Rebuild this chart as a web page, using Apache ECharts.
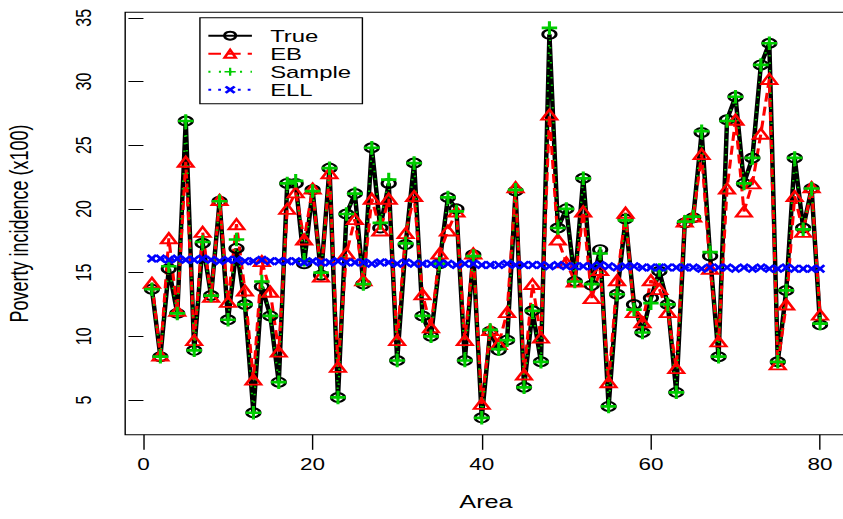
<!DOCTYPE html>
<html>
<head>
<meta charset="utf-8">
<script src="https://cdn.jsdelivr.net/npm/echarts@6/dist/echarts.min.js"></script>
<style>
  html, body { margin: 0; padding: 0; background: #fff; overflow: hidden; }
  #wrap { width: 843px; height: 519px; overflow: hidden; }
  /* the plot is laid out on a 600px canvas and widened to the 843px page */
  #chart { width: 600px; height: 519px; transform: scaleX(1.405); transform-origin: 0 0; }
</style>
</head>
<body>
<div id="wrap"><div id="chart"></div></div>
<script>
// Area index
const areas = [
  1, 2, 3, 4, 5, 6, 7, 8, 9, 10, 11, 12, 13, 14, 15, 16, 17, 18, 19, 20,
  21, 22, 23, 24, 25, 26, 27, 28, 29, 30, 31, 32, 33, 34, 35, 36, 37, 38, 39, 40,
  41, 42, 43, 44, 45, 46, 47, 48, 49, 50, 51, 52, 53, 54, 55, 56, 57, 58, 59, 60,
  61, 62, 63, 64, 65, 66, 67, 68, 69, 70, 71, 72, 73, 74, 75, 76, 77, 78, 79, 80
];

// Poverty incidence (x100) by area
const trueVals = [
  13.7, 8.4, 15.3, 11.8, 26.9, 8.9, 17.3, 13.2, 20.6, 11.3,
  16.9, 12.5, 4.0, 13.9, 11.6, 6.4, 22.0, 22.0, 15.7, 21.5,
  14.8, 23.2, 5.2, 19.6, 21.2, 14.1, 24.8, 18.5, 22.0, 8.1,
  17.2, 23.6, 11.6, 10.0, 15.7, 20.9, 20.0, 8.1, 16.4, 3.6,
  10.4, 8.9, 9.7, 21.4, 6.0, 12.0, 8.0, 33.7, 18.5, 20.0,
  14.3, 22.4, 14.0, 16.8, 4.5, 13.3, 19.2, 12.5, 10.3, 13.0,
  15.1, 12.5, 5.6, 18.9, 19.3, 26.0, 16.3, 8.4, 27.0, 28.8,
  22.0, 24.0, 31.3, 33.0, 8.0, 13.6, 24.0, 18.5, 21.6, 10.9
];

const ebVals = [
  14.2, 8.5, 17.7, 12.0, 23.7, 9.7, 18.2, 13.1, 20.7, 12.7,
  18.8, 13.6, 6.6, 15.9, 13.5, 8.8, 20.0, 21.3, 17.6, 21.6,
  14.7, 22.8, 7.6, 16.5, 19.2, 14.4, 20.8, 18.3, 20.8, 9.7,
  18.1, 21.0, 13.3, 10.7, 16.5, 18.3, 19.8, 9.7, 16.5, 4.7,
  10.5, 9.4, 11.9, 21.7, 7.0, 14.1, 9.9, 27.4, 17.6, 15.8,
  14.3, 19.8, 13.0, 15.2, 6.4, 14.4, 19.7, 11.9, 11.1, 14.4,
  13.7, 11.9, 7.5, 19.0, 19.4, 24.3, 15.3, 9.6, 21.6, 27.0,
  19.8, 22.0, 25.9, 30.2, 7.8, 12.5, 21.0, 18.2, 21.7, 11.7
];

const sampleVals = [
  13.7, 8.4, 15.5, 11.8, 26.9, 8.9, 17.4, 13.2, 20.6, 11.3,
  17.6, 12.5, 4.0, 14.3, 11.6, 6.4, 22.0, 22.2, 16.0, 21.4,
  15.0, 23.2, 5.2, 19.6, 21.2, 14.1, 24.8, 18.9, 22.3, 8.1,
  17.3, 23.6, 11.6, 10.0, 15.7, 20.9, 19.8, 8.1, 16.3, 3.6,
  10.5, 9.0, 9.7, 21.5, 6.0, 12.0, 8.0, 34.2, 18.5, 20.0,
  14.3, 22.4, 14.1, 16.5, 4.5, 13.3, 19.1, 12.1, 10.3, 12.6,
  15.2, 12.5, 5.6, 19.0, 19.4, 26.1, 16.6, 8.4, 26.9, 28.8,
  22.0, 24.0, 31.3, 33.0, 8.0, 13.6, 24.0, 18.4, 21.6, 11.0
];

const ellVals = [
  16.1, 16.1, 16.0, 16.1, 16.0, 16.0, 16.1, 16.0, 15.9, 16.0,
  16.0, 15.9, 15.9, 16.0, 15.9, 15.9, 15.9, 15.9, 15.8, 15.9,
  15.8, 15.8, 15.9, 15.8, 15.8, 15.8, 15.7, 15.8, 15.8, 15.7,
  15.8, 15.7, 15.7, 15.7, 15.7, 15.7, 15.6, 15.7, 15.7, 15.6,
  15.6, 15.6, 15.7, 15.6, 15.6, 15.6, 15.6, 15.5, 15.6, 15.5,
  15.5, 15.5, 15.5, 15.6, 15.5, 15.4, 15.5, 15.5, 15.4, 15.4,
  15.4, 15.4, 15.4, 15.4, 15.4, 15.3, 15.4, 15.4, 15.4, 15.3,
  15.4, 15.3, 15.4, 15.3, 15.3, 15.4, 15.3, 15.3, 15.3, 15.3
];

const xTicks = [0, 20, 40, 60, 80];
const yTicks = [5, 10, 15, 20, 25, 30, 35];

const FONT = 'Liberation Sans, Arial, Helvetica, sans-serif';
const GREEN = '#00CD00';

// plus (pch 3) and cross (pch 4) marker outlines
const plusPath = 'path://M4,0H6V4H10V6H6V10H4V6H0V4H4Z';
const crossPath = 'path://M0,2L2,0L5,3L8,0L10,2L7,5L10,8L8,10L5,7L2,10L0,8L3,5Z';

const pairs = vals => areas.map((a, i) => [a, vals[i]]);

const chart = echarts.init(document.getElementById('chart'), null, { renderer: 'svg' });

chart.setOption({
  animation: false,
  backgroundColor: '#fff',
  textStyle: { fontFamily: FONT, color: '#000' },
  grid: {
    left: 89.1, top: 12.3, width: 513.6, height: 422.5,
    show: true, borderColor: '#000', borderWidth: 1,
    backgroundColor: 'transparent',
    containLabel: false, outerBoundsMode: 'none'
  },
  legend: {
    orient: 'vertical',
    left: 142.3, top: 17.7,
    padding: [9, 8, 5, 5],
    backgroundColor: '#fff',
    borderColor: '#000', borderWidth: 1, borderRadius: 0,
    itemWidth: 31, itemHeight: 10, itemGap: 0,
    textStyle: { fontFamily: FONT, fontSize: 17, color: '#000', lineHeight: 18, padding: [0, 0, 0, 8] },
    data: ['True', 'EB', 'Sample', 'ELL']
  },
  xAxis: {
    type: 'value',
    min: -2.16, max: 83.16,
    name: 'Area', nameLocation: 'middle', nameGap: 58,
    nameTextStyle: { fontFamily: FONT, fontSize: 18, color: '#000' },
    axisLine: { show: false },
    axisTick: { show: true, customValues: xTicks, length: 15, lineStyle: { color: '#000', width: 1 } },
    axisLabel: { customValues: xTicks, fontFamily: FONT, fontSize: 16, color: '#000', margin: 21 },
    splitLine: { show: false }
  },
  yAxis: {
    type: 'value',
    min: 2.27, max: 35.43,
    name: 'Poverty incidence (x100)', nameLocation: 'middle', nameGap: 66, nameRotate: 90,
    nameTextStyle: { fontFamily: FONT, fontSize: 18, color: '#000' },
    axisLine: { show: false },
    axisTick: { show: true, customValues: yTicks, length: 10.7, lineStyle: { color: '#000', width: 1 } },
    axisLabel: { customValues: yTicks, rotate: 90, fontFamily: FONT, fontSize: 16, color: '#000', margin: 22 },
    splitLine: { show: false }
  },
  series: [
    {
      name: 'True', type: 'line', data: pairs(trueVals),
      symbol: 'circle', symbolSize: [9.5, 9],
      itemStyle: { color: 'rgba(0,0,0,0)', borderColor: '#000', borderWidth: 2 },
      lineStyle: { color: '#000', width: 3.2 },
      emphasis: { disabled: true }
    },
    {
      name: 'EB', type: 'line', data: pairs(ebVals),
      symbol: 'triangle', symbolSize: [11, 10],
      itemStyle: { color: 'rgba(0,0,0,0)', borderColor: '#FF0000', borderWidth: 2 },
      lineStyle: { color: '#FF0000', width: 2.2, type: [9, 5] },
      emphasis: { disabled: true }
    },
    {
      name: 'Sample', type: 'line', data: pairs(sampleVals),
      symbol: plusPath, symbolSize: [11, 13.5],
      itemStyle: { color: GREEN, borderWidth: 0 },
      lineStyle: { color: GREEN, width: 1.5, type: [1.5, 6] },
      emphasis: { disabled: true }
    },
    {
      name: 'ELL', type: 'line', data: pairs(ellVals),
      symbol: crossPath, symbolSize: [7.5, 9],
      itemStyle: { color: '#0000FF', borderWidth: 0 },
      lineStyle: { color: '#0000FF', width: 2, type: [2, 5] },
      emphasis: { disabled: true }
    }
  ]
});
</script>
</body>
</html>
